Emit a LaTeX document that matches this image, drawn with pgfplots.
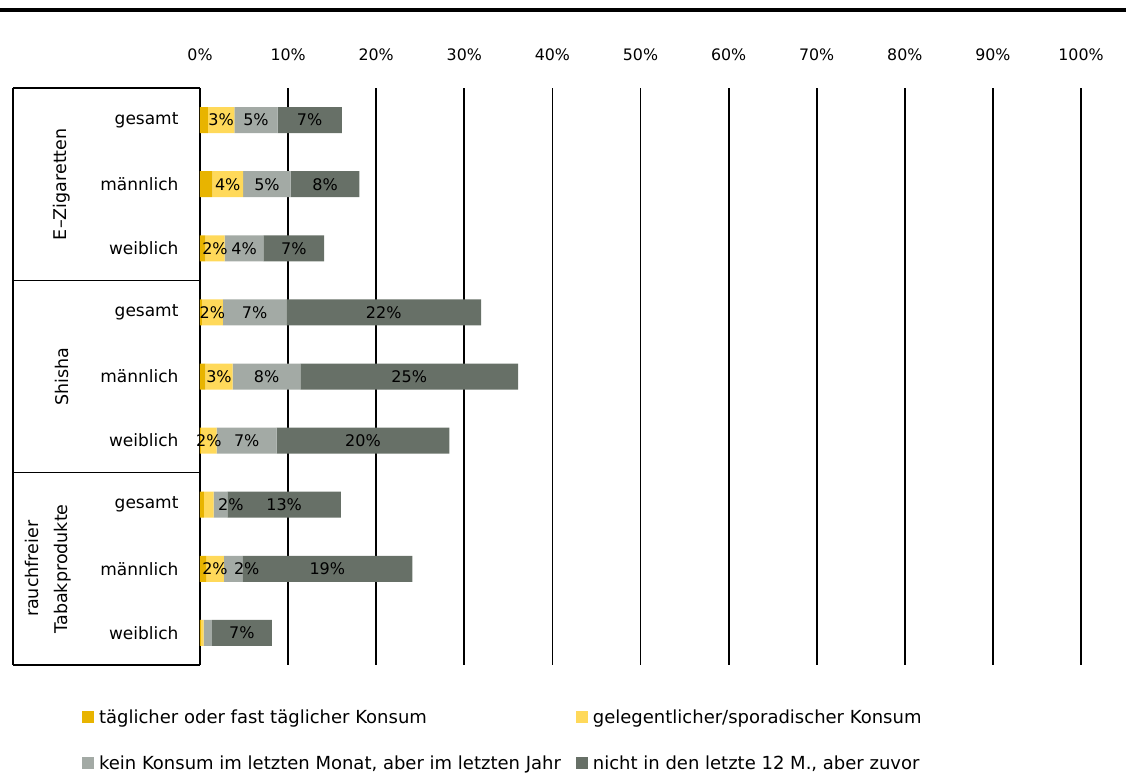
\documentclass[border=0pt]{standalone}
\usepackage{pgfplots}
\usepackage{pgfplotstable}
\pgfplotsset{compat=1.18}
\usepackage{fontspec}
\setmainfont{DejaVu Sans}
\definecolor{cdaily}{RGB}{232,180,0}
\definecolor{cocc}{RGB}{255,217,90}
\definecolor{ckein}{RGB}{163,170,165}
\definecolor{cnicht}{RGB}{103,112,103}

\pgfplotstableread{
row d o k n
0 0.9 3.0 4.9 7.3
1 1.4 3.5 5.4 7.8
2 0.6 2.2 4.4 6.9
3 0.2 2.4 7.2 22.1
4 0.6 3.1 7.7 24.7
5 0.1 1.8 6.8 19.6
6 0.45 1.1 1.55 12.9
7 0.7 2.0 2.1 19.3
8 0.1 0.3 0.95 6.8
}\datatable

\pgfplotstableread{
x y lab
2.4 0 3
6.35 0 5
12.45 0 7
3.15 1 4
7.6 1 5
14.2 1 8
1.7 2 2
5.0 2 4
10.65 2 7
1.4 3 2
6.2 3 7
20.85 3 22
2.15 4 3
7.55 4 8
23.75 4 25
1.0 5 2
5.3 5 7
18.5 5 20
3.5 6 2
9.55 6 13
1.7 7 2
5.3 7 2
14.45 7 19
4.75 8 7
}\labtable

\begin{document}
\begin{tikzpicture}
\useasboundingbox (-200pt,-107pt) rectangle (926pt,665pt);
\draw[line width=3.5pt] (-200pt,655pt) -- (926pt,655pt);
\begin{axis}[
  scale only axis,
  width=881pt, height=577pt,
  xbar stacked,
  bar width=26pt,
  xmin=0, xmax=100,
  ymin=-0.5, ymax=8.5,
  y dir=reverse,
  clip=false,
  axis line style={draw=none},
  xtick={0,10,...,100},
  xticklabels={0\%,10\%,20\%,30\%,40\%,50\%,60\%,70\%,80\%,90\%,100\%},
  xticklabel pos=upper,
  xmajorgrids,
  major grid style={black, line width=1.8pt},
  major tick length=0pt,
  xticklabel style={font=\fontsize{15.8}{18}\selectfont, yshift=24pt},
  ytick={0,...,8},
  yticklabels={gesamt,männlich,weiblich,gesamt,männlich,weiblich,gesamt,männlich,weiblich},
  yticklabel style={font=\fontsize{17}{20}\selectfont, anchor=east, xshift=-18pt},
  legend columns=2,
  legend cell align=left,
  legend style={draw=none, fill=none, font=\fontsize{18}{21}\selectfont,
    at={(-0.1375,-0.07)}, anchor=north west, row sep=27pt,
    /tikz/every odd column/.append style={column sep=3pt},
    /tikz/every even column/.append style={column sep=13pt}},
  legend image code/.code={\fill[#1] (0pt,-6pt) rectangle (12pt,6pt);},
]
\addplot[fill=cdaily, draw=none] table[x=d, y=row] {\datatable};
\addlegendentry{täglicher oder fast täglicher Konsum}
\addplot[fill=cocc, draw=none] table[x=o, y=row] {\datatable};
\addlegendentry{gelegentlicher/sporadischer Konsum}
\addplot[fill=ckein, draw=none] table[x=k, y=row] {\datatable};
\addlegendentry{kein Konsum im letzten Monat, aber im letzten Jahr}
\addplot[fill=cnicht, draw=none] table[x=n, y=row] {\datatable};
\addlegendentry{nicht in den letzte 12 M., aber zuvor}

\draw[line width=1.5pt] ([xshift=-187pt]axis cs:0,-0.5) -- (axis cs:0,-0.5);
\draw[line width=1.5pt] ([xshift=-187pt]axis cs:0,2.5) -- (axis cs:0,2.5);
\draw[line width=1.5pt] ([xshift=-187pt]axis cs:0,5.5) -- (axis cs:0,5.5);
\draw[line width=1.5pt] ([xshift=-187pt]axis cs:0,8.5) -- (axis cs:0,8.5);
\draw[line width=1.5pt] ([xshift=-187pt]axis cs:0,-0.5) -- ([xshift=-187pt]axis cs:0,8.5);
\node[rotate=90, font=\fontsize{17.5}{20}\selectfont] at ([xshift=-138pt]axis cs:0,1) {E–Zigaretten};
\node[rotate=90, font=\fontsize{17.5}{20}\selectfont] at ([xshift=-138pt]axis cs:0,4) {Shisha};
\node[rotate=90, align=center, font=\fontsize{17.5}{29}\selectfont] at ([xshift=-152pt]axis cs:0,7) {rauchfreier\\Tabakprodukte};
\end{axis}
\begin{axis}[
  scale only axis,
  width=881pt, height=577pt,
  xmin=0, xmax=100,
  ymin=-0.5, ymax=8.5,
  y dir=reverse,
  hide axis, clip=false,
]
\addplot[only marks, mark=none, point meta=explicit symbolic,
  nodes near coords={\pgfplotspointmeta\%},
  nodes near coords style={anchor=center, font=\fontsize{16}{18}\selectfont, text=black}]
  table[x=x, y=y, meta=lab] {\labtable};
\end{axis}
\end{tikzpicture}
\end{document}
